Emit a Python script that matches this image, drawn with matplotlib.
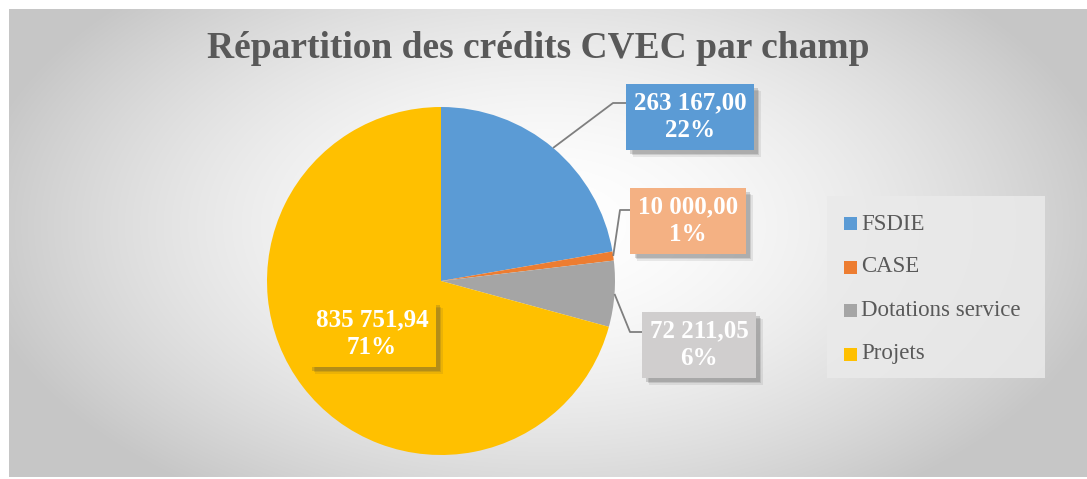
import numpy as np
import matplotlib
matplotlib.use("Agg")
import matplotlib.pyplot as plt
from matplotlib.patches import Rectangle
import matplotlib.patheffects as pe

# ---- data ----
categories = ["FSDIE", "CASE", "Dotations service", "Projets"]
values = [263167.00, 10000.00, 72211.05, 835751.94]
slice_colors = ["#5B9BD5", "#ED7D31", "#A5A5A5", "#FFC000"]
label_box_colors = ["#5B9BD5", "#F4B183", "#D0CECE", "#FFC000"]
title = "Répartition des crédits CVEC par champ"

W, H = 1087, 479
fig = plt.figure(figsize=(W / 100, H / 100), dpi=100)
fig.patch.set_facecolor("white")

def fx(px):
    return px / W

def fy(py):
    return 1 - py / H

# ---- background gradient ----
x0, y0, x1, y1 = 9, 9, W, 477
bg = fig.add_axes([fx(x0), fy(y1), fx(x1 - x0), (y1 - y0) / H])
bg.set_axis_off()
yy, xx = np.mgrid[y0:y1, x0:x1]
cx, cy, rx, ry = 545, 225, 580, 330
d = np.sqrt(((xx - cx) / rx) ** 2 + ((yy - cy) / ry) ** 2)
d = np.clip(d, 0, 1)
g = 255 - (255 - 198) * d ** 1.7
img = np.dstack([g, g, g]) / 255.0
bg.imshow(img, aspect="auto", extent=[0, 1, 0, 1], interpolation="bilinear")
bg.set_xlim(0, 1)
bg.set_ylim(0, 1)

# ---- pie axes (center at pixel (441,281), radius 174) ----
R = 174.0
pcx, pcy = 441, 281
ax = fig.add_axes([fx(pcx - 2 * R), 0, fx(4 * R), 1])
ax.patch.set_alpha(0)

wedges, _ = ax.pie(values, colors=slice_colors, startangle=90, counterclock=False,
                   radius=1.0, center=(0, 0), frame=True,
                   wedgeprops=dict(linewidth=0))
ax.set_xlim(-2, 2)
ax.set_ylim(-(H - pcy) / R, pcy / R)
ax.set_axis_off()

def dpt(px, py):
    return ((px - pcx) / R, (pcy - py) / R)

total = sum(values)

def fmt(v):
    s = f"{v:,.2f}"
    return s.replace(",", " ").replace(".", ",")

# label layout: box center, elbow, box-left attach (pixels)
layout = [
    dict(center=(690, 117), elbow=(613, 103), attach=(626, 103)),
    dict(center=(688, 221), elbow=(620, 210), attach=(630, 210)),
    dict(center=(699, 345), elbow=(630, 332), attach=(642, 332)),
    dict(center=(372, 334), elbow=None, attach=None),
]

shadow = [pe.SimplePatchShadow(offset=(o, -o), shadow_rgbFace="#404040", alpha=a)
          for o, a in [(5, 0.10), (4, 0.15), (3, 0.2)]] + [pe.Normal()]

for w, v, bc, lay in zip(wedges, values, label_box_colors, layout):
    pct = round(v / total * 100)
    txt = f"{fmt(v)}\n{pct}%"
    if lay["elbow"] is not None:
        mid = np.deg2rad((w.theta1 + w.theta2) / 2)
        ex, ey = np.cos(mid), np.sin(mid)
        bx, by = dpt(*lay["elbow"])
        axx, ayy = dpt(*lay["attach"])
        ax.plot([ex, bx, axx], [ey, by, ayy], color="#7F7F7F", lw=1.3,
                solid_capstyle="butt", zorder=3)
    tx, ty = dpt(*lay["center"])
    t = ax.text(tx, ty, txt, ha="center", va="center", multialignment="center",
                fontsize=18, fontweight="bold", color="white",
                family="Liberation Serif", linespacing=1.25, zorder=5,
                bbox=dict(boxstyle="square,pad=0.3", facecolor=bc, edgecolor="none"))
    t.get_bbox_patch().set_path_effects(shadow)

# ---- title ----
fig.text(fx(538), fy(48), title, ha="center", va="center", fontsize=27,
         fontweight="bold", color="#595959", family="Liberation Serif")

# ---- legend ----
leg_bg = Rectangle((fx(827), fy(378)), fx(1045 - 827), (378 - 196) / H,
                   transform=fig.transFigure, facecolor="#EAEAEA", edgecolor="none",
                   alpha=0.85, zorder=2)
fig.add_artist(leg_bg)
leg_y = [224, 267, 310, 354]
for cat, col, ly in zip(categories, slice_colors, leg_y):
    fig.add_artist(Rectangle((fx(844), fy(ly + 6.5)), fx(13), 13 / H,
                             transform=fig.transFigure, facecolor=col,
                             edgecolor="none", zorder=3))
    fig.text(fx(861), fy(ly), cat, ha="left", va="center", fontsize=16.5,
             color="#595959", family="Liberation Serif", zorder=4)

fig.savefig("out.png", dpi=100)
